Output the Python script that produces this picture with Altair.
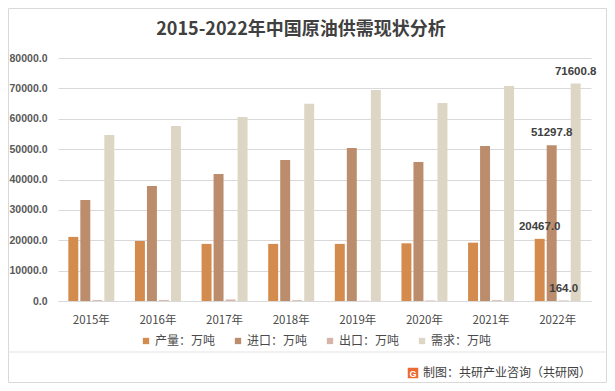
import altair as alt
import pandas as pd

years = ["2015年", "2016年", "2017年", "2018年", "2019年", "2020年", "2021年", "2022年"]
series = ["产量：万吨", "进口：万吨", "出口：万吨", "需求：万吨"]
production = [21100, 19750, 18800, 18800, 18800, 19000, 19200, 20467.0]
imports = [33250, 37900, 41800, 46400, 50400, 45800, 51000, 51297.8]
exports = [286.6, 294.0, 486.0, 263.0, 81.0, 164.0, 261.0, 164.0]
demand = [54650, 57600, 60600, 64900, 69500, 65200, 70800, 71600.8]
colors = ["#D38B4E", "#BB8D6C", "#D6B4AA", "#DED6C5"]
y_ticks = [0, 10000, 20000, 30000, 40000, 50000, 60000, 70000, 80000]
title_text = "2015-2022年中国原油供需现状分析"
source_text = "制图：共研产业咨询（共研网）"
label_year = "2022年"

rows = []
for name, vals in zip(series, [production, imports, exports, demand]):
    for y, v in zip(years, vals):
        rows.append({"year": y, "series": name, "value": v})
df = pd.DataFrame(rows)

CJK = "Noto Sans CJK SC"
NUM = "Liberation Sans"

x_enc = alt.X("year:N", sort=years,
              scale=alt.Scale(paddingInner=0.31, paddingOuter=0.155),
              axis=alt.Axis(title=None, labelAngle=0, labelFont=CJK, labelFontSize=11.5,
                            labelColor="#4a4a4a", labelPadding=13, ticks=False,
                            domainColor="#d9d9d9", grid=False))
xo_enc = alt.XOffset("series:N", sort=series,
                     scale=alt.Scale(paddingInner=0.17, paddingOuter=0))
y_enc = alt.Y("value:Q", scale=alt.Scale(domain=[0, 80000]),
              axis=alt.Axis(title=None, values=y_ticks, format=".1f", labelFont=NUM,
                            labelFontSize=10.5, labelColor="#595959", labelPadding=11,
                            labelFontWeight="bold",
                            ticks=False, domain=False, gridColor="#d9d9d9"))

base = alt.Chart(df)
bars = base.mark_bar().encode(
    x=x_enc, xOffset=xo_enc, y=y_enc,
    color=alt.Color("series:N", sort=series,
                    scale=alt.Scale(domain=series, range=colors),
                    legend=alt.Legend(title=None, orient="none", legendX=82, legendY=277,
                                      direction="horizontal", columns=4, symbolType="square",
                                      symbolSize=40, labelFont=CJK, labelFontSize=12,
                                      labelColor="#4a4a4a", columnPadding=16, labelOffset=3,
                                      padding=0, symbolStrokeWidth=0)),
)
labels = base.transform_filter(alt.datum.year == label_year).mark_text(
    baseline="bottom", dy=-7, fontSize=11.5, font=NUM, color="#404040", fontWeight="bold"
).encode(x=x_enc, xOffset=xo_enc, y=y_enc, text=alt.Text("value:Q", format=".1f"))

one = pd.DataFrame({"a": [0]})
title = alt.Chart(one).mark_text(fontSize=18, fontWeight="bold", font=CJK, color="#404040",
                                 align="center", baseline="middle").encode(
    x=alt.value(243), y=alt.value(-28), text=alt.value(title_text))
border = alt.Chart(one).mark_rect(fillOpacity=0, stroke="#d9d9d9", strokeWidth=1).encode(
    x=alt.value(-49.5), x2=alt.value(548.5), y=alt.value(-49.5), y2=alt.value(324.5))
sep = alt.Chart(one).mark_rule(color="#e3e3e3", strokeWidth=1).encode(
    x=alt.value(-50), x2=alt.value(549), y=alt.value(294))
logo = alt.Chart(one).mark_square(size=110, color="#EE6A33", opacity=1).encode(
    x=alt.value(355), y=alt.value(315))
logo_g = alt.Chart(one).mark_text(fontSize=9, fontWeight="bold", color="white", font=NUM,
                                  align="center", baseline="middle").encode(
    x=alt.value(355), y=alt.value(315.5), text=alt.value("G"))
source = alt.Chart(one).mark_text(fontSize=12, font=CJK, color="#404040", align="left",
                                  baseline="middle").encode(
    x=alt.value(365), y=alt.value(315), text=alt.value(source_text))

chart = alt.layer(border, sep, bars, labels, title, logo, logo_g, source).properties(
    width=533, height=243,
    autosize=alt.AutoSizeParams(type="none"),
    padding={"left": 50, "top": 50, "right": 16, "bottom": 82},
    background="white",
).configure_view(strokeWidth=0)

chart.save("out.html", embed_options={"renderer": "svg", "actions": False})
